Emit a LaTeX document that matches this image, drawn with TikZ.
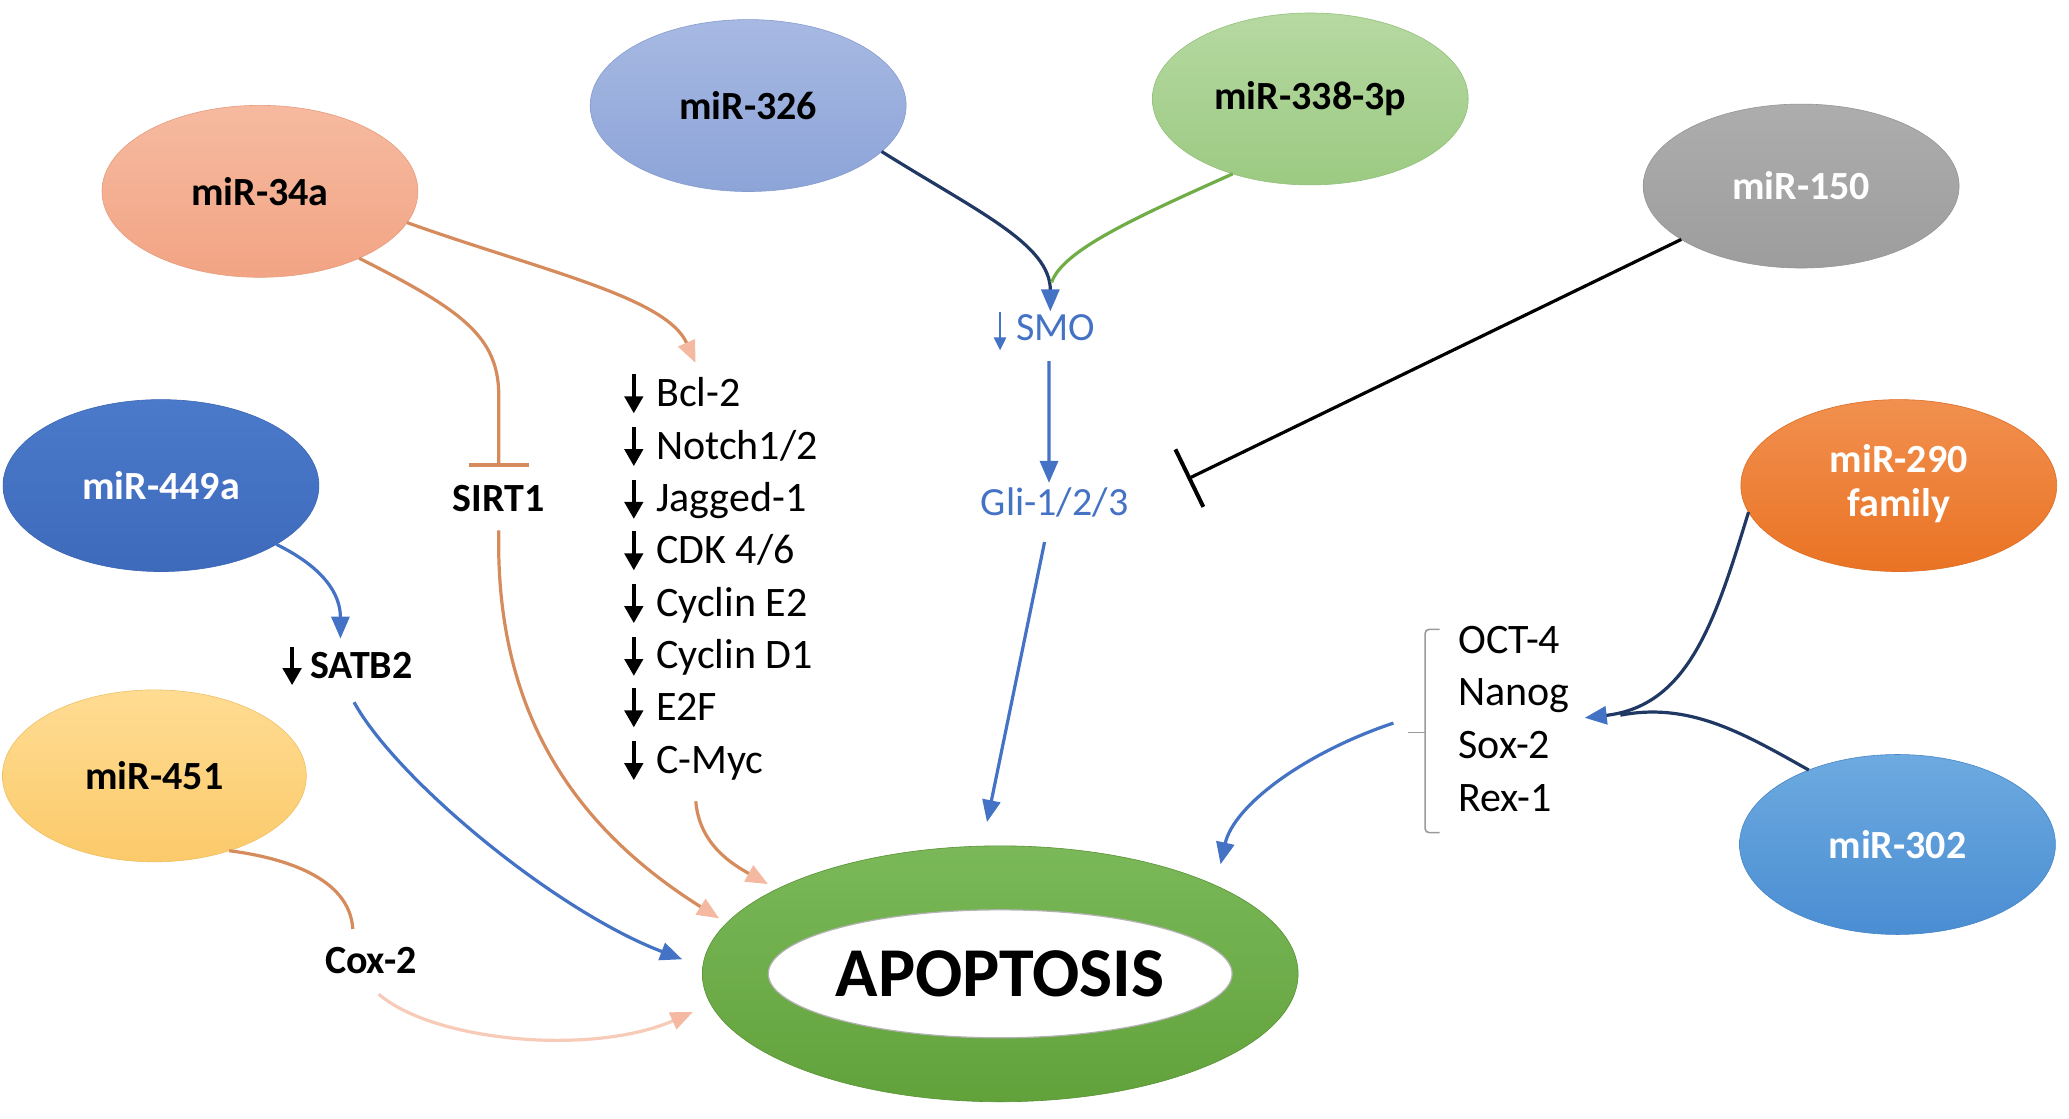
\documentclass[tikz,border=0pt]{standalone}
\usepackage{fontspec}
\setmainfont{Carlito}
\usetikzlibrary{arrows.meta,shapes.geometric}
\definecolor{c34t}{HTML}{F6BAA0}
\definecolor{c34b}{HTML}{F2A484}
\definecolor{c326t}{HTML}{A7B9E3}
\definecolor{c326b}{HTML}{8DA4D8}
\definecolor{c338t}{HTML}{B6D9A2}
\definecolor{c338b}{HTML}{9CCA82}
\definecolor{c150t}{HTML}{ADADAD}
\definecolor{c150b}{HTML}{9D9D9D}
\definecolor{c449t}{HTML}{4B7ACA}
\definecolor{c449b}{HTML}{3E6ABC}
\definecolor{c290t}{HTML}{F1904F}
\definecolor{c290b}{HTML}{EA7324}
\definecolor{c451t}{HTML}{FFDC93}
\definecolor{c451b}{HTML}{FBCA6A}
\definecolor{c302t}{HTML}{6DAAE0}
\definecolor{c302b}{HTML}{4A8DD2}
\definecolor{capt}{HTML}{7AB859}
\definecolor{capb}{HTML}{62A23B}
\definecolor{corange}{HTML}{D68B5C}
\definecolor{cpeach}{HTML}{F5B8A0}
\definecolor{clpeach}{HTML}{F7CBB8}
\definecolor{cblue}{HTML}{4472C4}
\definecolor{cnavy}{HTML}{203864}
\definecolor{cgreen}{HTML}{70AD47}
\definecolor{cbrk}{HTML}{9A9A9A}
\begin{document}
\begin{tikzpicture}[x=0.66pt,y=-0.66pt,
  mir/.style={ellipse, inner sep=0pt, outer sep=0pt, minimum width=158pt, minimum height=86pt,
    font=\fontsize{20}{22}\selectfont\bfseries},
  shadetwo/.style 2 args={top color=#1, bottom color=#2, draw=#2!95!black, line width=0.3pt},
  lbl/.style={inner sep=0pt, font=\fontsize{20}{24}\selectfont\bfseries},
  item/.style={inner sep=0pt, anchor=base west, font=\fontsize{21}{25}\selectfont},
  darr/.style={line width=2.2pt, -{Triangle[length=8.5pt,width=9pt]}},
  sarr/.style={line width=1.2pt, cblue, -{Triangle[length=6.5pt,width=6pt]}},
  con/.style={line width=1.6pt},
  oline/.style={con, corange},
  ptip/.style={-{Triangle[length=11pt,width=9pt,color=cpeach]}},
  btip/.style={-{Triangle[length=11pt,width=9pt,color=cblue]}},
  bline/.style={con, cblue},
  nline/.style={con, cnavy},
]
\useasboundingbox (0,0) rectangle (1568,848);
\fill[white] (0,0) rectangle (1568,848);

% microRNA ellipses
\node[mir, shadetwo={c34t}{c34b}] (m34a) at (197,145) {\makebox[0pt]{miR-34a}};
\node[mir, shadetwo={c326t}{c326b}] (m326) at (567,80) {\makebox[0pt]{miR-326}};
\node[mir, shadetwo={c338t}{c338b}] (m338) at (993,75) {\makebox[0pt]{miR-338-3p}};
\node[mir, minimum height=82pt, shadetwo={c150t}{c150b}, text=white] (m150) at (1365,141) {\makebox[0pt]{miR-150}};
\node[mir, shadetwo={c449t}{c449b}, text=white] (m449) at (122,368) {\makebox[0pt]{miR-449a}};
\node[mir, shadetwo={c290t}{c290b}, text=white] (m290) at (1439,368)
  {\makebox[0pt]{\begin{tabular}{@{}c@{}}miR-290\\family\end{tabular}}};
\node[mir, minimum width=152pt, shadetwo={c451t}{c451b}] (m451) at (117,588) {\makebox[0pt]{miR-451}};
\node[mir, minimum height=90pt, shadetwo={c302t}{c302b}, text=white] (m302) at (1438,640) {\makebox[0pt]{miR-302}};

% apoptosis ring
\node[ellipse, inner sep=0pt, minimum width=298pt, minimum height=128pt, top color=capt, bottom color=capb,
  draw=capb!90!black, line width=0.3pt] (apop) at (758,738) {};
\node[ellipse, inner sep=0pt, minimum width=232pt, minimum height=64pt, fill=white, draw=black!30,
  line width=0.6pt, font=\fontsize{35}{40}\selectfont\bfseries] (apopin) at (apop.center) {\makebox[0pt]{APOPTOSIS}};

% labels
\node[lbl] (sirt) at (378,378) {SIRT1};
\node[lbl, anchor=base west] (satb) at (235,514) {SATB2};
\node[lbl] (cox) at (281,728) {Cox-2};
\node[inner sep=0pt, anchor=base west, font=\fontsize{20}{24}\selectfont, text=cblue] (smo) at (770,258) {SMO};
\node[inner sep=0pt, anchor=base west, font=\fontsize{20}{24}\selectfont, text=cblue] (gli) at (743,391) {Gli-1/2/3};

\node[item] (l1) at (497,308) {Bcl-2};
\node[item] (l2) at (497,348) {Notch1/2};
\node[item] (l3) at (497,388) {Jagged-1};
\node[item] (l4) at (497,427) {CDK 4/6};
\node[item] (l5) at (497,467) {Cyclin E2};
\node[item] (l6) at (497,507) {Cyclin D1};
\node[item] (l7) at (497,546) {E2F};
\node[item] (l8) at (497,586) {C-Myc};

\node[item] (o1) at (1105,495) {OCT-4};
\node[item] (o2) at (1105,535) {Nanog};
\node[item] (o3) at (1105,575) {Sox-2};
\node[item] (o4) at (1105,615) {Rex-1};

% down arrows beside labels
\foreach \n in {l1,l2,l3,l4,l5,l6,l7,l8}
  \draw[darr] ([xshift=-11pt,yshift=16pt]\n.base west) -- ([xshift=-11pt,yshift=-3.5pt]\n.base west);
\draw[darr] ([xshift=-9pt,yshift=15.5pt]satb.base west) -- ([xshift=-9pt,yshift=-3.5pt]satb.base west);
\draw[sarr] ([xshift=-8pt,yshift=14pt]smo.base west) -- ([xshift=-8pt,yshift=-5pt]smo.base west);

% bracket
\draw[cbrk, line width=0.8pt, rounded corners=2pt] (1091,477) -- (1080,477) -- (1080,631) -- (1091,631);
\draw[cbrk, line width=0.8pt] (1080,555) -- (1067,555);

% free ends
\coordinate (tBcl) at (527,275);
\coordinate (tSirtBar) at (378,354);
\coordinate (tSirtA) at (545,696);
\coordinate (tMyc) at (582,670);
\coordinate (tSatb) at (258,484);
\coordinate (tSatbA) at (517,727);
\coordinate (tCox) at (525,767);
\coordinate (tSmo) at (796,236);
\coordinate (jSmo) at (797,214);
\coordinate (tGli) at (795,366);
\coordinate (tGliA) at (748,623);
\coordinate (tInh) at (900,363);
\coordinate (tNan) at (1201,544);
\coordinate (jNan) at (1228,542);
\coordinate (sOct) at (1056,548);
\coordinate (tOct) at (925,655);

% connectors
\draw[oline, ptip] (m34a.-12) .. controls (410,205) and (505,225) .. (tBcl);
\draw[oline, -{Bar[width=30pt,line width=2pt]}] (m34a.-34) .. controls (350,235) and (378,255) .. (378,300) -- (tSirtBar);
\draw[oline, ptip] ([yshift=-9pt]sirt.south) .. controls (375,545) and (440,630) .. (tSirtA);
\draw[oline, ptip] ([xshift=20pt,yshift=-14pt]l8.base west) .. controls (530,640) and (555,655) .. (tMyc);

\draw[bline, btip] (m449.-27) .. controls (245,430) and (258,450) .. (tSatb);
\draw[bline, btip] ([xshift=22pt,yshift=-12pt]satb.base west) .. controls (300,590) and (420,690) .. (tSatbA);

\draw[oline] (m451.-45) .. controls (215,650) and (265,665) .. ([xshift=-9pt,yshift=9pt]cox.north);
\draw[con, clpeach, ptip] ([xshift=4pt,yshift=-10pt]cox.south) .. controls (330,790) and (450,800) .. (tCox);

\draw[nline, btip] (m326.-19) .. controls (740,160) and (796,185) .. (tSmo);
\draw[con, cgreen] (m338.-136) .. controls (860,165) and (805,190) .. (jSmo);
\draw[bline, btip] ([xshift=-3.5pt,yshift=-10pt]smo.south) -- (tGli);
\draw[bline, btip] ([xshift=-5pt,yshift=-12pt]gli.south) -- (tGliA);

\draw[line width=1.6pt, black, -{Bar[width=32pt,line width=2pt]}] (m150.204) -- (tInh);

\draw[nline, btip] (m290.190) .. controls (1300,470) and (1280,535) .. (tNan);
\draw[nline] (m302.140) .. controls (1320,555) and (1280,532) .. (jNan);
\draw[bline, btip] (sOct) .. controls (990,570) and (935,610) .. (tOct);
\end{tikzpicture}
\end{document}
